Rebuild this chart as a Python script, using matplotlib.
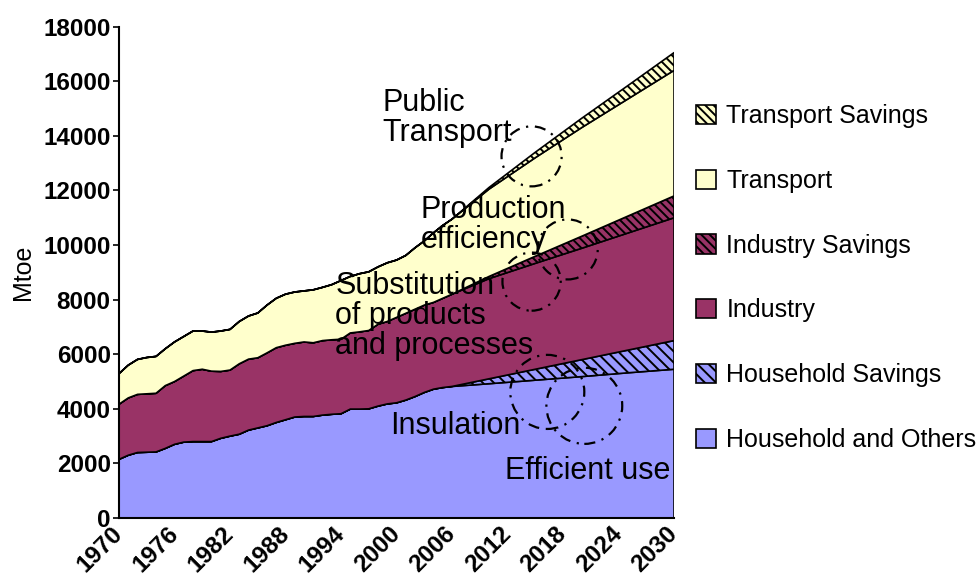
import numpy as np
import matplotlib
matplotlib.use('Agg')
import matplotlib.pyplot as plt
from matplotlib.patches import Ellipse

# Mtoe, stacked layers (each list is the layer thickness)
years = [1970, 1971, 1972, 1973, 1974, 1975, 1976, 1977, 1978, 1979,
         1980, 1981, 1982, 1983, 1984, 1985, 1986, 1987, 1988, 1989,
         1990, 1991, 1992, 1993, 1994, 1995, 1996, 1997, 1998, 1999,
         2000, 2001, 2002, 2003, 2004, 2005, 2006, 2010, 2015, 2020,
         2025, 2030]
household = [2150, 2300, 2400, 2410, 2420, 2550, 2700, 2780, 2800, 2800,
             2800, 2920, 3000, 3070, 3220, 3300, 3380, 3500, 3600, 3700,
             3720, 3720, 3770, 3800, 3820, 3990, 3990, 4000, 4100, 4180,
             4220, 4320, 4450, 4600, 4720, 4780, 4820, 4920, 5050, 5180,
             5320, 5450]
household_savings = [0] * 37 + [180, 400, 620, 830, 1050]
industry = [2020, 2100, 2130, 2140, 2150, 2300, 2300, 2420, 2600, 2650,
            2580, 2450, 2420, 2580, 2600, 2570, 2670, 2740, 2730, 2700,
            2730, 2700, 2730, 2730, 2730, 2790, 2830, 2870, 3000, 3020,
            3130, 3180, 3200, 3200, 3180, 3270, 3380, 3670, 3880, 4080,
            4290, 4500]
industry_savings = [0] * 37 + [80, 260, 440, 620, 800]
transport = [1120, 1200, 1280, 1330, 1350, 1350, 1450, 1450, 1450, 1400,
             1430, 1480, 1490, 1550, 1580, 1640, 1750, 1810, 1870, 1880,
             1870, 1940, 1950, 2020, 2150, 2070, 2130, 2150, 2100, 2150,
             2100, 2120, 2250, 2350, 2550, 2670, 2750, 3200, 3610, 3980,
             4290, 4600]
transport_savings = [0] * 37 + [60, 200, 340, 490, 650]

labels = ['Household and Others', 'Household Savings', 'Industry',
          'Industry Savings', 'Transport', 'Transport Savings']
tick_years = list(range(1970, 2031, 6))

colors = ['#9999FF', '#9999FF', '#993366', '#993366', '#FFFFCC', '#FFFFCC']
hatches = ['', '\\\\\\', '', '\\\\\\\\', '', '\\\\\\\\']


def setup_pyplot():
    plt.rcParams['font.family'] = ['Liberation Sans', 'DejaVu Sans']
    plt.rcParams['hatch.linewidth'] = 1.4
    plt.rcParams['hatch.color'] = 'black'


def draw():
    fig = plt.figure(figsize=(9.78, 5.78), dpi=100)
    ax = fig.add_axes([0.1217, 0.1038, 0.5675, 0.85])

    polys = ax.stackplot(years, household, household_savings, industry,
                         industry_savings, transport, transport_savings,
                         colors=colors, hatch=hatches, labels=labels,
                         edgecolor='black', linewidth=1.2)

    ax.set_xlim(1970, 2030)
    ax.set_ylim(0, 18000)
    ax.set_yticks(np.arange(0, 18001, 2000))
    ax.set_xticks(tick_years)
    ax.set_xticklabels([str(y) for y in tick_years], rotation=45, ha='right',
                       va='center', rotation_mode='anchor')
    for lbl in ax.get_xticklabels() + ax.get_yticklabels():
        lbl.set_fontweight('bold')
    ax.tick_params(axis='y', direction='out', length=4, width=1.2, pad=2, labelsize=17.5)
    ax.tick_params(axis='x', length=0, pad=9, labelsize=17.5)
    ax.spines['top'].set_visible(False)
    ax.spines['right'].set_visible(False)
    ax.spines['left'].set_linewidth(1.5)
    ax.spines['bottom'].set_linewidth(1.5)
    ax.set_ylabel('Mtoe', fontsize=18, labelpad=6)

    # annotations
    fs = 22
    ax.text(1998.5, 14650, 'Public\nTransport', fontsize=fs, va='center', ha='left', linespacing=1.0)
    ax.text(2002.6, 10750, 'Production\nefficiency', fontsize=fs, va='center', ha='left', linespacing=1.0)
    ax.text(1993.4, 7390, 'Substitution\nof products\nand processes', fontsize=fs,
            va='center', ha='left', linespacing=1.0)
    ax.text(1999.3, 3380, 'Insulation', fontsize=fs, va='center', ha='left')
    ax.text(2011.7, 1720, 'Efficient use', fontsize=fs, va='center', ha='left')

    circles = [(2014.6, 13250, 6.5, 2200), (2018.5, 9840, 6.5, 2200),
               (2014.6, 8660, 6.3, 2130), (2016.3, 4620, 8.0, 2715),
               (2020.3, 4110, 8.2, 2790)]
    for (cx, cy, w, h) in circles:
        ax.add_patch(Ellipse((cx, cy), w, h, fill=False, edgecolor='black',
                             linewidth=1.6, linestyle=(0, (5, 3, 1, 3))))

    fig.legend(polys[::-1], labels[::-1], loc='center left',
               bbox_to_anchor=(0.712, 0.519), frameon=False, fontsize=18,
               handlelength=0.8, handleheight=0.8, handletextpad=0.4,
               labelspacing=1.63, borderpad=0, borderaxespad=0)

    plt.savefig('out.png', dpi=100)


if __name__ == "__main__":
    setup_pyplot()
    draw()
